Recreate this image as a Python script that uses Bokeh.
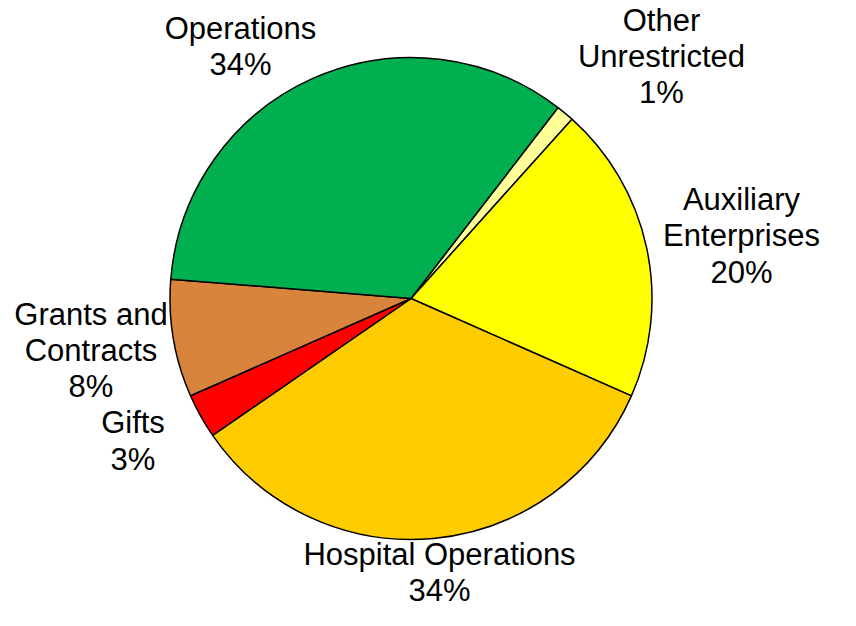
import math
from bokeh.plotting import figure
from bokeh.models import ColumnDataSource, Range1d
from bokeh.core.properties import value
from bokeh.embed import file_html
from bokeh.resources import INLINE

# ---- data (clockwise order, starting at the first slice edge) ----
categories = ["Other\nUnrestricted", "Auxiliary\nEnterprises", "Hospital Operations",
              "Gifts", "Grants and\nContracts", "Operations"]
shares = [1.2, 20.0, 33.8, 3.0, 7.9, 34.2]
colors = ["#FFFF99", "#FFFF00", "#FFCC00", "#FF0000", "#D9843D", "#00B050"]

# ---- layout ----
W, H = 840, 610
CX, CY = 410.5, 312.0          # pie centre (figure pixels, y up)
R = 241
START_DEG = 52.4               # angle of the first slice's leading edge
# label block centre offsets from pie centre (pixels, y up)
label_offsets = [(250.5, 242), (330.5, 62.5), (28.5, -274), (-278, -142.5), (-320, -52), (-170.5, 252)]

total = sum(shares)
starts, ends, pct = [], [], []
cum = 0.0
for s in shares:
    a0 = START_DEG - (cum + s) / total * 360.0
    a1 = START_DEG - cum / total * 360.0
    starts.append(math.radians(a0))
    ends.append(math.radians(a1))
    pct.append(f"{round(s / total * 100):d}%")
    cum += s

src = ColumnDataSource(dict(start=starts, end=ends, color=colors,
                            x=[CX] * len(shares), y=[CY] * len(shares)))

p = figure(width=W, height=H, output_backend="svg", toolbar_location=None,
           x_range=Range1d(0, W), y_range=Range1d(0, H),
           min_border=0, outline_line_color=None)
p.axis.visible = False
p.grid.visible = False
p.background_fill_color = "white"
p.border_fill_color = "white"

p.wedge(x="x", y="y", radius=R, start_angle="start", end_angle="end",
        fill_color="color", line_color="black", line_width=1.5, source=src)

lab = ColumnDataSource(dict(
    x=[CX + dx for dx, dy in label_offsets],
    y=[CY + dy for dx, dy in label_offsets],
    text=[f"{c}\n{p_}" for c, p_ in zip(categories, pct)]))
p.text(x="x", y="y", text="text", source=lab, text_align="center",
       text_baseline="middle", text_font=value("Liberation Sans"),
       text_font_size="31px", text_color="black", text_line_height=1.04)

open("out.html", "w").write(file_html(p, INLINE))
